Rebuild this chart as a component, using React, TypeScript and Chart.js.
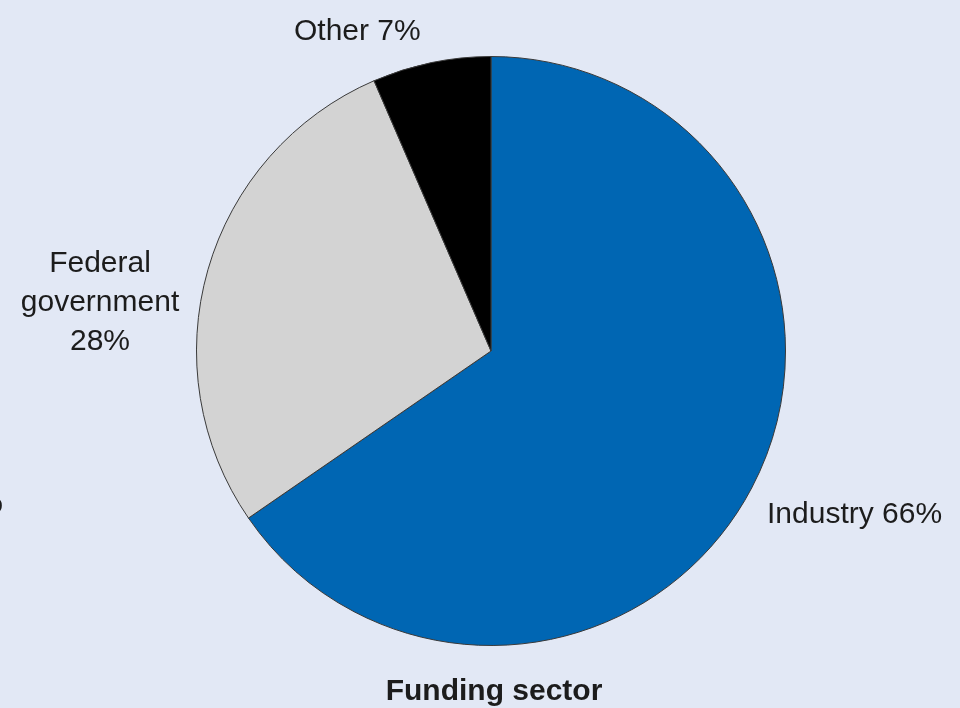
import React, { useEffect, useRef } from "react";
import { Chart, registerables } from "chart.js";

Chart.register(...registerables);

const categories = ["Industry", "Federal government", "Other"];
const shareValues = [65.4, 28.1, 6.5];
const shareLabels = ["66%", "28%", "7%"];
const sliceColors = ["#0066b3", "#d3d3d3", "#000000"];
const title = "Funding sector";

const BG = "#e2e8f5";
const FONT = '"Liberation Sans", Arial, Helvetica, sans-serif';

const labelPlugin = {
  id: "sliceLabels",
  beforeDraw(chart: any) {
    const ctx = chart.ctx;
    ctx.save();
    ctx.fillStyle = BG;
    ctx.fillRect(0, 0, chart.width, chart.height);
    ctx.restore();
  },
  afterDraw(chart: any) {
    const ctx = chart.ctx;
    ctx.save();
    ctx.fillStyle = "#1c1c1c";
    ctx.textBaseline = "alphabetic";
    ctx.font = `30px ${FONT}`;
    // Other
    ctx.textAlign = "left";
    ctx.fillText(`${categories[2]} ${shareLabels[2]}`, 294, 40);
    // Industry
    ctx.fillText(`${categories[0]} ${shareLabels[0]}`, 767, 523);
    // Federal government
    ctx.textAlign = "center";
    const fedWords = categories[1].split(" ");
    ctx.fillText(fedWords[0], 100, 272);
    ctx.fillText(fedWords[1].toLowerCase(), 100, 311);
    ctx.fillText(shareLabels[1], 100, 350);
    // clipped neighbour glyph at left edge
    ctx.textAlign = "right";
    ctx.fillText("%", 3, 512);
    // title
    ctx.font = `bold 30px ${FONT}`;
    ctx.textAlign = "center";
    ctx.fillText(title, 494, 700);
    ctx.restore();
  },
};

export default function App() {
  const ref = useRef<HTMLCanvasElement | null>(null);
  useEffect(() => {
    if (!ref.current) return;
    const chart = new Chart(ref.current, {
      type: "pie",
      data: {
        labels: categories,
        datasets: [
          {
            data: shareValues,
            backgroundColor: sliceColors,
            borderColor: "#3a3a3a",
            borderWidth: 1,
          },
        ],
      },
      options: {
        animation: false,
        responsive: false,
        maintainAspectRatio: false,
        layout: { padding: { left: 196, right: 174, top: 56, bottom: 62 } },
        plugins: {
          legend: { display: false },
          tooltip: { enabled: false },
        },
      },
      plugins: [labelPlugin],
    });
    return () => chart.destroy();
  }, []);
  return (
    <div style={{ position: "fixed", left: 0, top: 0, width: 960, height: 708, background: BG }}>
      <canvas ref={ref} width={960} height={708} style={{ width: 960, height: 708, display: "block" }} />
    </div>
  );
}
